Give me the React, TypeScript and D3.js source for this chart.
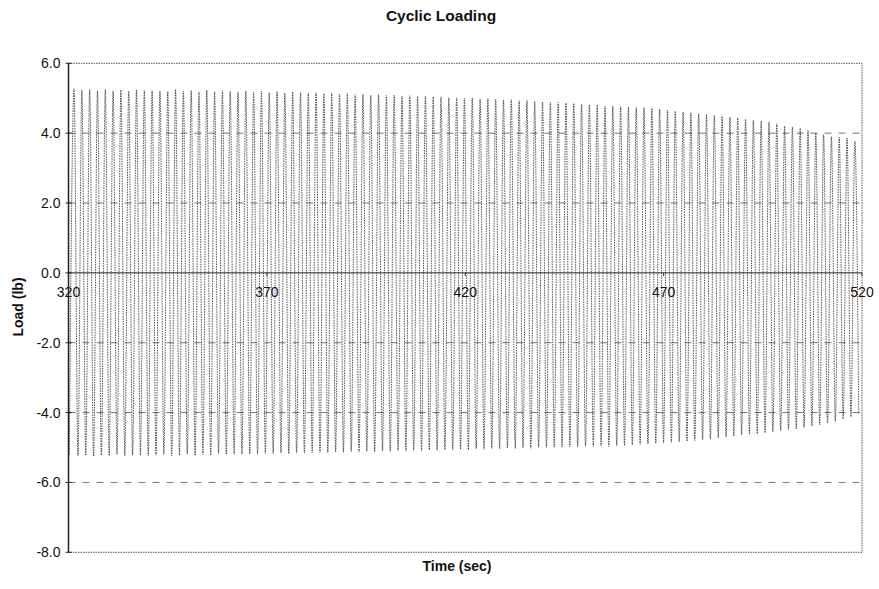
import React from "react";
import * as d3 from "d3";

// ---- data ----
const TITLE = "Cyclic Loading";
const X_LABEL = "Time (sec)";
const Y_LABEL = "Load (lb)";
const X_TICKS = [320, 370, 420, 470, 520];
const Y_TICKS = [6, 4, 2, 0, -2, -4, -6, -8];
const GRID_Y = [4, 2, -2, -4, -6];

// first point of the record, then one peak + one trough per cycle
const START_TIME = 320.2;
const START_LOAD = -5.2;
const FIRST_PEAK_TIME = 321.4;
const CYCLE_PERIOD = 1.968; // seconds per load cycle (sampling of the record)

const PEAKS = [
  5.27, 5.24, 5.25, 5.22, 5.26, 5.21, 5.23, 5.2, 5.24, 5.22,
  5.22, 5.21, 5.19, 5.25, 5.2, 5.22, 5.18, 5.23, 5.19, 5.21,
  5.2, 5.18, 5.21, 5.17, 5.2, 5.16, 5.19, 5.15, 5.18, 5.16,
  5.15, 5.16, 5.13, 5.15, 5.12, 5.14, 5.1, 5.12, 5.09, 5.1,
  5.08, 5.09, 5.06, 5.07, 5.05, 5.06, 5.03, 5.04, 5.02, 5.01,
  5.0, 5.01, 4.98, 4.99, 4.97, 4.95, 4.96, 4.93, 4.94, 4.91,
  4.9, 4.89, 4.88, 4.86, 4.85, 4.83, 4.81, 4.8, 4.77, 4.78,
  4.76, 4.75, 4.74, 4.73, 4.71, 4.69, 4.66, 4.63, 4.61, 4.58,
  4.56, 4.53, 4.51, 4.48, 4.46, 4.43, 4.4, 4.37, 4.35, 4.32,
  4.27, 4.2, 4.18, 4.14, 4.08, 4.0, 3.96, 3.9, 3.88, 3.86, 3.77,
];

const TROUGHS = [
  -5.24, -5.22, -5.25, -5.21, -5.23, -5.2, -5.24, -5.22, -5.21, -5.23,
  -5.22, -5.2, -5.23, -5.21, -5.19, -5.22, -5.2, -5.21, -5.18, -5.2,
  -5.19, -5.2, -5.18, -5.19, -5.17, -5.18, -5.16, -5.18, -5.15, -5.16,
  -5.15, -5.14, -5.15, -5.13, -5.14, -5.12, -5.13, -5.11, -5.12, -5.1,
  -5.11, -5.09, -5.1, -5.08, -5.09, -5.07, -5.08, -5.06, -5.07, -5.05,
  -5.06, -5.04, -5.05, -5.03, -5.04, -5.02, -5.03, -5.01, -5.02, -5.0,
  -5.0, -4.99, -4.99, -4.98, -4.98, -4.97, -4.97, -4.96, -4.97, -4.95,
  -4.94, -4.93, -4.91, -4.9, -4.88, -4.87, -4.85, -4.84, -4.82, -4.8,
  -4.78, -4.76, -4.73, -4.7, -4.67, -4.64, -4.62, -4.6, -4.58, -4.55,
  -4.52, -4.49, -4.47, -4.43, -4.38, -4.35, -4.3, -4.26, -4.18, -4.12, -4.04,
];

// ---- layout ----
const W = 879;
const H = 589;
const M = { left: 68.5, right: 862, top: 63.3, bottom: 552.3 };
const FONT = "'Liberation Sans', Arial, Helvetica, sans-serif";

export default function App() {
  const x = d3.scaleLinear().domain([320, 520]).range([M.left, M.right]);
  const y = d3.scaleLinear().domain([-8, 6]).range([M.bottom, M.top]);

  const pts: [number, number][] = [[START_TIME, START_LOAD]];
  PEAKS.forEach((p, i) => {
    const t = FIRST_PEAK_TIME + i * CYCLE_PERIOD;
    pts.push([t, p]);
    pts.push([t + CYCLE_PERIOD / 2, TROUGHS[i]]);
  });

  const line = d3
    .line<[number, number]>()
    .x((d) => x(d[0]))
    .y((d) => y(d[1]))
    .curve(d3.curveMonotoneX);

  const fmt = (v: number) => v.toFixed(1);

  return (
    <svg
      width={W}
      height={H}
      style={{ position: "absolute", left: 0, top: 0, background: "#fff" }}
      fontFamily={FONT}
    >
      <rect x={0} y={0} width={W} height={H} fill="#fff" />
      {/* grid */}
      {GRID_Y.map((v) => (
        <line
          key={v}
          x1={M.left}
          x2={M.right}
          y1={y(v)}
          y2={y(v)}
          stroke="#777"
          strokeWidth={1}
          strokeDasharray="7 7"
        />
      ))}
      {/* border (dotted) */}
      <path
        d={`M${M.left},${M.top}H${M.right}V${M.bottom}H${M.left}`}
        fill="none"
        stroke="#555"
        strokeWidth={1}
        strokeDasharray="1.5 1"
      />
      {/* data */}
      <path
        d={line(pts) || ""}
        fill="none"
        stroke="#2a2a2a"
        strokeWidth={0.8}
        strokeDasharray="1.5 1"
      />
      {/* zero line / x axis */}
      <line x1={M.left} x2={M.right} y1={y(0)} y2={y(0)} stroke="#222" strokeWidth={1} />
      {X_TICKS.map((t) => (
        <g key={t}>
          <line x1={x(t)} x2={x(t)} y1={y(0)} y2={y(0) + 3} stroke="#222" strokeWidth={1} />
          <text
            x={x(t)}
            y={y(0) + 24}
            textAnchor="middle"
            fontSize={14}
            fill="#111"
          >
            {t}
          </text>
        </g>
      ))}
      {/* y axis */}
      <line x1={M.left} x2={M.left} y1={M.top} y2={M.bottom} stroke="#222" strokeWidth={1.5} />
      {Y_TICKS.map((v) => (
        <g key={v}>
          <line x1={M.left - 3} x2={M.left + 3} y1={y(v)} y2={y(v)} stroke="#222" strokeWidth={1} />
          <text
            x={M.left - 8}
            y={y(v)}
            dy="0.36em"
            textAnchor="end"
            fontSize={14}
            fill="#111"
          >
            {fmt(v)}
          </text>
        </g>
      ))}
      {/* titles */}
      <text x={441} y={21} textAnchor="middle" fontSize={15.5} fontWeight="bold" fill="#111">
        {TITLE}
      </text>
      <text x={457} y={571} textAnchor="middle" fontSize={14} fontWeight="bold" fill="#111">
        {X_LABEL}
      </text>
      <text
        transform={`translate(23,307) rotate(-90)`}
        textAnchor="middle"
        fontSize={14}
        fontWeight="bold"
        fill="#111"
      >
        {Y_LABEL}
      </text>
    </svg>
  );
}
